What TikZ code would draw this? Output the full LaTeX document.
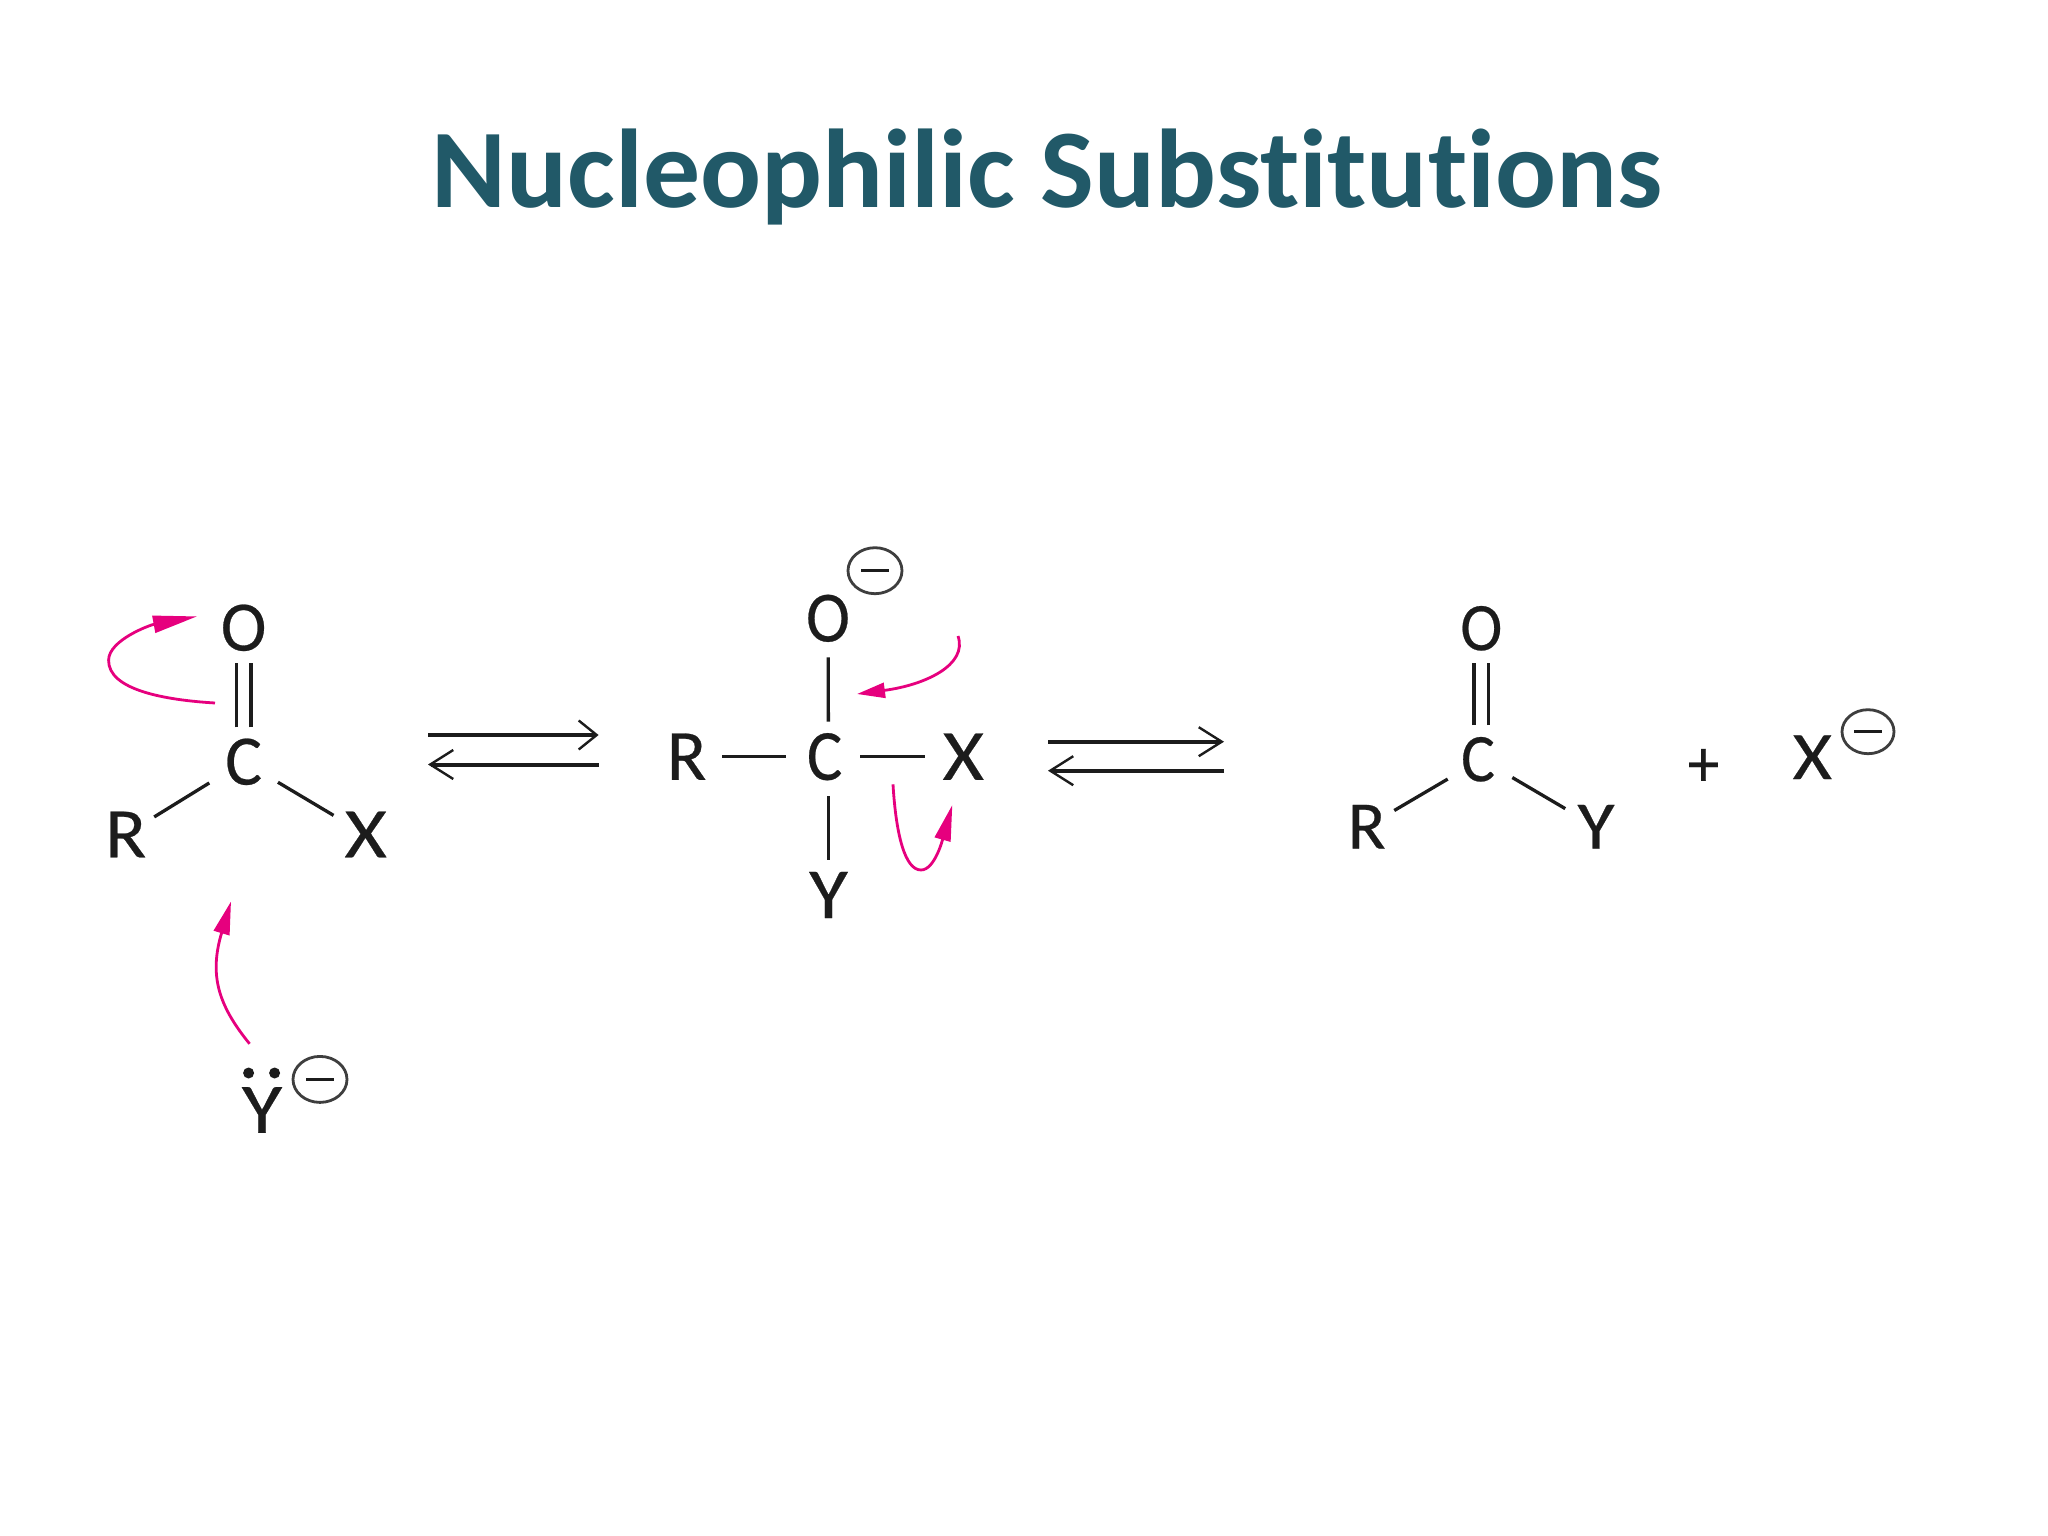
\documentclass[tikz,border=0pt]{standalone}
\usepackage{fontspec}
\usepackage{graphicx}
\setmainfont{Carlito}[Ligatures=NoCommon]
\newfontfamily\atomfont{Carlito}[FakeBold=0.35]
\usetikzlibrary{arrows.meta,shapes.geometric}
\definecolor{titleteal}{HTML}{215968}
\definecolor{curlypink}{HTML}{E6007E}
\definecolor{inkdark}{HTML}{1C1C1C}
\newcommand{\atomA}[2][1]{\scalebox{\fpeval{.97*#1}}[1]{\atomfont\fontsize{71}{71}\selectfont #2}}
\newcommand{\atomB}[2][1]{\scalebox{\fpeval{.92*#1}}[1]{\atomfont\fontsize{72}{72}\selectfont #2}}
\newcommand{\atomC}[2][1]{\scalebox{\fpeval{.93*#1}}[1]{\atomfont\fontsize{68}{68}\selectfont #2}}
\tikzset{
  atom/.style={inner sep=0pt,text=inkdark},
  bond/.style={draw=inkdark,line width=3.3pt},
  eqarrow/.style={draw=inkdark,line width=4pt,-{Straight Barb[length=#1,width=29pt,line width=2.4pt]}},
  curly/.style={draw=curlypink,line width=2.8pt},
  minuscharge/.style={ellipse,draw=inkdark!85,line width=2.8pt,inner sep=0pt,minimum width=54pt,minimum height=46pt},
  lonepair/.style={circle,fill=inkdark,inner sep=0pt,minimum size=11pt}
}
\newcommand{\minusbar}{\textcolor{inkdark}{\rule{28pt}{3pt}}}
\begin{document}
\begin{tikzpicture}[x=1pt,y=-1pt]
\path[use as bounding box,fill=white] (0,0) rectangle (2048,1536);
\node[anchor=base,inner sep=0pt,text=titleteal,font=\fontsize{112}{116}\selectfont\bfseries] (title) at (1047,207.3) {\scalebox{1.015}[1]{Nucleophilic Substitutions}};

% first structure
\node[atom] (o1) at (243.6,627.8) {\atomA{O}};
\node[atom] (c1) at (243.6,761.8) {\atomA{C}};
\node[atom] (r1) at (125.7,834.5) {\atomA[1.1]{R}};
\node[atom] (x1) at (365.7,834.5) {\atomA[1.18]{X}};
\node[atom] (y1) at (262,1110) {\atomA[1.2]{Y}};
\node[lonepair] (lp1) at (248.6,1073) {};
\node[lonepair] (lp2) at (274.6,1073) {};
\node[minuscharge] (q1) at (320,1079.4) {\minusbar};
\draw[bond,transform canvas={xshift=-7.3pt},shorten <=34.5pt,shorten >=35.6pt] (c1.center) -- (o1.center);
\draw[bond,transform canvas={xshift=7.3pt},shorten <=34.5pt,shorten >=35.6pt] (c1.center) -- (o1.center);
\draw[bond,shorten <=40.3pt,shorten >=33.5pt] (c1.center) -- (r1.center);
\draw[bond,shorten <=40pt,shorten >=37.4pt] (c1.center) -- (x1.center);

% first equilibrium
\coordinate (e1a) at (428,735);
\coordinate (e1b) at (598.6,735);
\coordinate (e1c) at (598.6,764.5);
\coordinate (e1d) at (428,764.5);
\draw[eqarrow=18pt] (e1a) -- (e1b);
\draw[eqarrow=23pt] (e1c) -- (e1d);

% middle structure
\node[atom] (o2) at (828,618.3) {\atomB{O}};
\node[atom] (c2) at (824.6,756.7) {\atomB{C}};
\coordinate (hub2) at (828.5,756.7);
\node[atom] (r2) at (686.6,756.7) {\atomB[1.1]{R}};
\node[atom] (x2) at (963.3,756.7) {\atomB[1.2]{X}};
\node[atom] (y2) at (828.5,895) {\atomB[1.2]{Y}};
\node[minuscharge] (q2) at (875,570.7) {\minusbar};
\draw[bond,shorten <=35pt,shorten >=39pt] (hub2) -- (o2.center);
\draw[bond,shorten <=43pt,shorten >=35.2pt] (hub2) -- (r2.center);
\draw[bond,shorten <=31.5pt,shorten >=38.7pt] (hub2) -- (x2.center);
\draw[bond,shorten <=39.3pt,shorten >=35pt] (hub2) -- (y2.center);

% second equilibrium
\coordinate (e2a) at (1048,741.7);
\coordinate (e2b) at (1224,741.7);
\coordinate (e2c) at (1224,770.7);
\coordinate (e2d) at (1048,770.7);
\draw[eqarrow=23pt] (e2a) -- (e2b);
\draw[eqarrow=23pt] (e2c) -- (e2d);

% third structure
\node[atom] (o3) at (1481.3,628.3) {\atomC{O}};
\node[atom] (c3) at (1478,759.3) {\atomC{C}};
\coordinate (hub3) at (1481.3,759.3);
\node[atom] (r3) at (1366.7,826.7) {\atomC[1.1]{R}};
\node[atom] (y3) at (1596,826.7) {\atomC[1.2]{Y}};
\node[atom] (plus) at (1703.5,767.7) {\atomC{+}};
\node[atom] (x3) at (1812.3,757.3) {\atomC[1.2]{X}};
\node[minuscharge,minimum width=52pt,minimum height=44pt] (q3) at (1868,731.7) {\minusbar};
\draw[bond,transform canvas={xshift=-7.3pt},shorten <=34.3pt,shorten >=34.4pt] (hub3) -- (o3.center);
\draw[bond,transform canvas={xshift=7.3pt},shorten <=34.3pt,shorten >=34.4pt] (hub3) -- (o3.center);
\draw[bond,shorten <=39pt,shorten >=32pt] (hub3) -- (r3.center);
\draw[bond,shorten <=36pt,shorten >=35.7pt] (hub3) -- (y3.center);

% curly arrows
\coordinate (a1s) at (215,703);
\coordinate (a1m) at (108.6,660);
\coordinate (a1e) at (197,616.4);
\draw[curly,-{Triangle[length=44pt,width=17pt]}] (a1s) .. controls (165,700) and (108,690) .. (a1m) .. controls (109,640) and (150,625) .. (a1e);
\coordinate (a2s) at (249.6,1043.8);
\coordinate (a2e) at (231,901.5);
\draw[curly,-{Triangle[length=33pt,width=16pt]}] (a2s) .. controls (218,1005) and (209,975) .. (a2e);
\coordinate (a3s) at (958,636);
\coordinate (a3e) at (857,694);
\draw[curly,-{Triangle[length=28pt,width=15pt]}] (a3s) .. controls (968,665) and (925,685) .. (a3e);
\coordinate (a4s) at (893,784.3);
\coordinate (a4m) at (921,870);
\coordinate (a4e) at (952.3,805);
\draw[curly,-{Triangle[length=36pt,width=16pt]}] (a4s) .. controls (896,835) and (905,870) .. (a4m) .. controls (935,870) and (943,838) .. (a4e);
\end{tikzpicture}
\end{document}
